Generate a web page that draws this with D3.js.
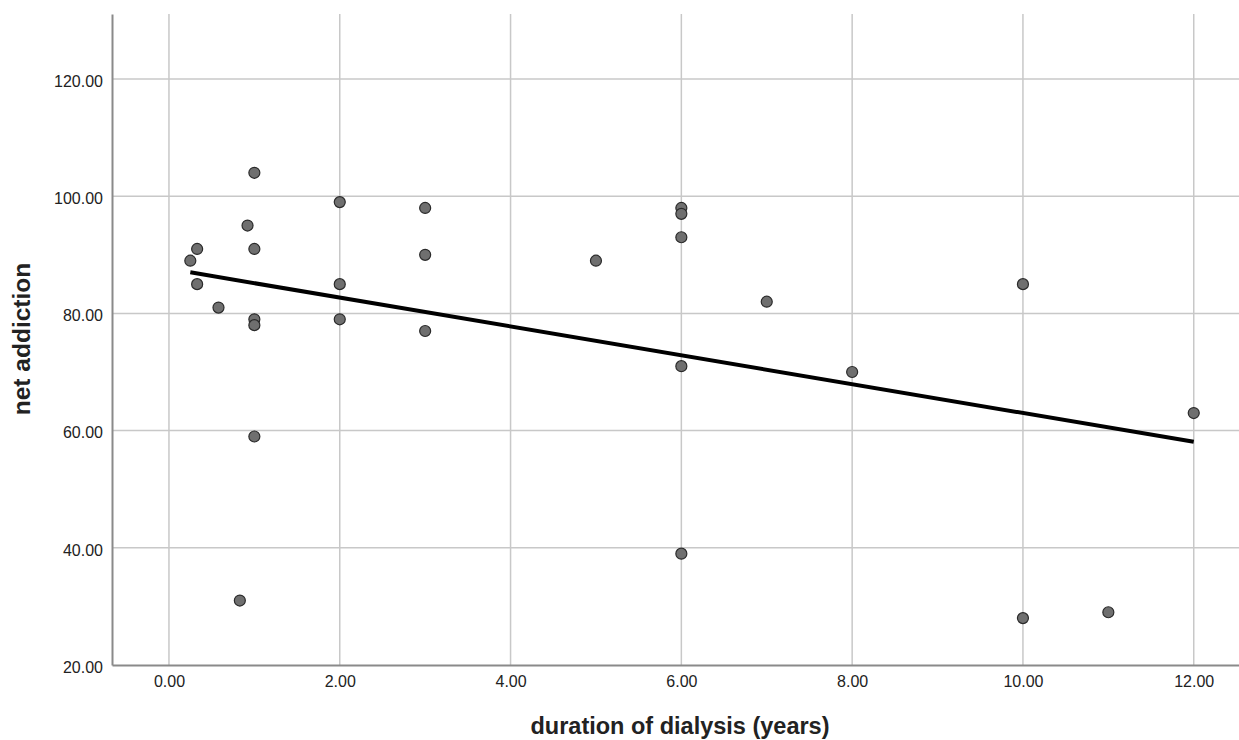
<!DOCTYPE html>
<html>
<head>
<meta charset="utf-8">
<script src="https://cdn.jsdelivr.net/npm/d3@7"></script>
<style>
  body { margin: 0; background: #fff; }
  text { font-family: "Liberation Sans", Arial, sans-serif; fill: #222; }
  .axisTitle { font-weight: bold; }
  .tick text { font-size: 16px; }
</style>
</head>
<body>
<div class="chart"></div>
<script>
// duration of dialysis (years) and net addiction score per patient
var duration = [0.25, 0.33, 0.33, 0.58, 0.83, 0.92, 1, 1, 1, 1, 1, 2, 2, 2, 3, 3, 3,
  5, 6, 6, 6, 6, 6, 7, 8, 10, 10, 11, 12];
var addiction = [89, 91, 85, 81, 31, 95, 104, 91, 79, 78, 59, 99, 85, 79, 98, 90, 77,
  89, 98, 97, 93, 71, 39, 82, 70, 85, 28, 29, 63];

var xTicks = [0, 2, 4, 6, 8, 10, 12];
var yTicks = [20, 40, 60, 80, 100, 120];

var svgWidth = 1239;
var svgHeight = 740;

var margin = { top: 14, right: 0, bottom: 75, left: 112 };
var width = svgWidth - margin.left - margin.right;
var height = svgHeight - margin.top - margin.bottom;

var svg = d3.select(".chart")
  .append("svg")
  .attr("width", svgWidth)
  .attr("height", svgHeight);

var chartGroup = svg.append("g")
  .attr("transform", `translate(${margin.left}, ${margin.top})`);

var points = duration.map(function(d, i) {
  return { x: d, y: addiction[i] };
});

// scales
var xScale = d3.scaleLinear()
  .domain([-0.667, 12.53])
  .range([0, width]);

var yScale = d3.scaleLinear()
  .domain([20, 131.1])
  .range([height, 0]);

// gridlines
chartGroup.append("g")
  .selectAll("line")
  .data(xTicks)
  .enter()
  .append("line")
  .attr("x1", d => xScale(d))
  .attr("x2", d => xScale(d))
  .attr("y1", 0)
  .attr("y2", height)
  .attr("stroke", "#c8c8c8")
  .attr("stroke-width", 1.5);

chartGroup.append("g")
  .selectAll("line")
  .data(yTicks.slice(1))
  .enter()
  .append("line")
  .attr("x1", 0)
  .attr("x2", width)
  .attr("y1", d => yScale(d))
  .attr("y2", d => yScale(d))
  .attr("stroke", "#c8c8c8")
  .attr("stroke-width", 1.5);

// axes
var bottomAxis = d3.axisBottom(xScale)
  .tickValues(xTicks)
  .tickSize(0)
  .tickPadding(11)
  .tickFormat(d3.format(".2f"));

var leftAxis = d3.axisLeft(yScale)
  .tickValues(yTicks)
  .tickSize(0)
  .tickPadding(9)
  .tickFormat(d3.format(".2f"));

var xAxisG = chartGroup.append("g")
  .attr("transform", `translate(0, ${height})`)
  .call(bottomAxis);

var yAxisG = chartGroup.append("g")
  .call(leftAxis);

[xAxisG, yAxisG].forEach(function(g) {
  g.select(".domain").attr("stroke", "#8a8a8a").attr("stroke-width", 2);
  g.selectAll(".tick text").attr("fill", "#222");
});
yAxisG.selectAll(".tick text").attr("dy", "0.45em");

// least squares fit line
var mx = d3.mean(duration), my = d3.mean(addiction);
var sxy = d3.sum(points, p => (p.x - mx) * (p.y - my));
var sxx = d3.sum(points, p => (p.x - mx) * (p.x - mx));
var slope = sxy / sxx;
var intercept = my - slope * mx;
var xExtent = d3.extent(duration);

chartGroup.append("line")
  .attr("x1", xScale(xExtent[0]))
  .attr("y1", yScale(intercept + slope * xExtent[0]))
  .attr("x2", xScale(xExtent[1]))
  .attr("y2", yScale(intercept + slope * xExtent[1]))
  .attr("stroke", "#000")
  .attr("stroke-width", 4);

// points
chartGroup.selectAll("circle")
  .data(points)
  .enter()
  .append("circle")
  .attr("cx", d => xScale(d.x))
  .attr("cy", d => yScale(d.y))
  .attr("r", 5.5)
  .attr("fill", "#6f6f6f")
  .attr("stroke", "#2a2a2a")
  .attr("stroke-width", 1.2);

// axis titles
svg.append("text")
  .attr("class", "axisTitle")
  .attr("text-anchor", "middle")
  .style("font-size", "23.5px")
  .attr("x", 680)
  .attr("y", 734)
  .text("duration of dialysis (years)");

svg.append("text")
  .attr("class", "axisTitle")
  .attr("text-anchor", "middle")
  .style("font-size", "24.5px")
  .attr("transform", "translate(30, 339) rotate(-90)")
  .text("net addiction");
</script>
</body>
</html>
